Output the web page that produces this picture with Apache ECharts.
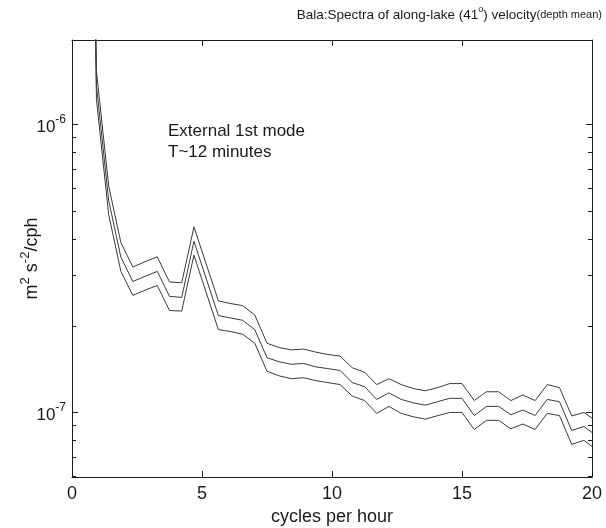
<!DOCTYPE html>
<html><head><meta charset="utf-8">
<script src="https://cdn.jsdelivr.net/npm/echarts@6/dist/echarts.min.js"></script>
<style>html,body{margin:0;padding:0;background:#fff}#c{width:606px;height:528px}</style>
</head><body><div id="c"></div>
<script>
// frequencies (cycles per hour)
const freq = [0.47, 0.94, 1.41, 1.88, 2.34, 2.81, 3.28, 3.75, 4.22, 4.69, 5.16, 5.63, 6.09, 6.56, 7.03,
  7.50, 7.97, 8.44, 8.91, 9.38, 9.84, 10.31, 10.78, 11.25, 11.72, 12.19, 12.66, 13.13, 13.59, 14.06,
  14.53, 15.00, 15.47, 15.94, 16.41, 16.88, 17.34, 17.81, 18.28, 18.75, 19.22, 19.69, 20.16];
// spectrum estimate (m^2 s^-2 / cph)
const psdMid = [1.0e-3, 1.366e-6, 5.45e-7, 3.46e-7, 2.85e-7, 2.97e-7, 3.09e-7, 2.53e-7, 2.51e-7, 3.93e-7,
  2.92e-7, 2.17e-7, 2.13e-7, 2.09e-7, 1.94e-7, 1.55e-7, 1.50e-7, 1.47e-7, 1.48e-7, 1.44e-7,
  1.42e-7, 1.40e-7, 1.27e-7, 1.23e-7, 1.11e-7, 1.17e-7, 1.11e-7, 1.08e-7, 1.06e-7, 1.09e-7,
  1.12e-7, 1.12e-7, 9.76e-8, 1.05e-7, 1.05e-7, 9.82e-8, 1.02e-7, 9.76e-8, 1.11e-7, 1.09e-7,
  8.66e-8, 8.94e-8, 8.32e-8];
// upper confidence bound
const psdUpper = [1.12e-3, 1.534e-6, 6.12e-7, 3.89e-7, 3.20e-7, 3.34e-7, 3.47e-7, 2.84e-7, 2.82e-7, 4.41e-7,
  3.28e-7, 2.44e-7, 2.39e-7, 2.35e-7, 2.18e-7, 1.74e-7, 1.68e-7, 1.65e-7, 1.66e-7, 1.62e-7,
  1.59e-7, 1.57e-7, 1.43e-7, 1.38e-7, 1.25e-7, 1.31e-7, 1.25e-7, 1.21e-7, 1.19e-7, 1.22e-7,
  1.26e-7, 1.26e-7, 1.10e-7, 1.18e-7, 1.18e-7, 1.10e-7, 1.15e-7, 1.10e-7, 1.25e-7, 1.22e-7,
  9.73e-8, 1.00e-7, 9.34e-8];
// lower confidence bound
const psdLower = [8.9e-4, 1.222e-6, 4.87e-7, 3.09e-7, 2.55e-7, 2.66e-7, 2.76e-7, 2.26e-7, 2.25e-7, 3.52e-7,
  2.61e-7, 1.94e-7, 1.91e-7, 1.87e-7, 1.74e-7, 1.39e-7, 1.34e-7, 1.31e-7, 1.32e-7, 1.29e-7,
  1.27e-7, 1.25e-7, 1.14e-7, 1.10e-7, 9.93e-8, 1.05e-7, 9.93e-8, 9.66e-8, 9.48e-8, 9.75e-8,
  1.00e-7, 1.00e-7, 8.73e-8, 9.39e-8, 9.39e-8, 8.78e-8, 9.12e-8, 8.73e-8, 9.93e-8, 9.75e-8,
  7.75e-8, 8.00e-8, 7.44e-8];
const xMin = 0, xMax = 20, xStep = 5;
const yMin = 5.97e-8, yMax = 1.965e-6;
const yMajor = [1e-7, 1e-6];
const yMinor = [6e-8, 7e-8, 8e-8, 9e-8, 2e-7, 3e-7, 4e-7, 5e-7, 6e-7, 7e-7, 8e-7, 9e-7];

const FONT = '"Liberation Sans", Arial, Helvetica, sans-serif';
const INK = '#1a1a1a';
const chart = echarts.init(document.getElementById('c'), null, {renderer: 'canvas'});

function pair(ys) { return freq.map((f, i) => [f, ys[i]]); }

function yAx(pos, ticks, len, withLabels, withLine) {
  return {
    type: 'log', logBase: 10, min: yMin, max: yMax, position: pos,
    axisLine: {show: withLine, onZero: false, lineStyle: {color: INK, width: 1}},
    axisTick: {show: true, inside: true, length: len, customValues: ticks, lineStyle: {color: INK}},
    axisLabel: withLabels ? {
      show: true, customValues: yMajor, margin: 6, fontFamily: FONT,
      formatter: v => '{b|10}{s|' + Math.round(Math.log10(v)) + '}',
      rich: {
        b: {fontSize: 17, lineHeight: 22, fontFamily: FONT, color: INK, verticalAlign: 'bottom'},
        s: {fontSize: 12, lineHeight: 14, fontFamily: FONT, color: INK, verticalAlign: 'top'}
      }
    } : {show: false},
    splitLine: {show: false}, minorTick: {show: false}
  };
}

const option = {
  animation: false,
  backgroundColor: '#fff',
  grid: {left: 72, right: 14, top: 40, bottom: 51, containLabel: false, outerBoundsMode: 'none'},
  xAxis: [
    {type: 'value', min: xMin, max: xMax, interval: xStep, position: 'bottom',
     name: 'cycles per hour', nameLocation: 'middle', nameGap: 31, nameMoveOverlap: false,
     nameTextStyle: {fontSize: 18, fontFamily: FONT, color: INK},
     axisLine: {show: true, onZero: false, lineStyle: {color: INK, width: 1}},
     axisTick: {show: true, inside: true, length: 6, lineStyle: {color: INK}},
     axisLabel: {fontSize: 18, fontFamily: FONT, color: INK, margin: 8},
     splitLine: {show: false}},
    {type: 'value', min: xMin, max: xMax, interval: xStep, position: 'top',
     axisLine: {show: true, onZero: false, lineStyle: {color: INK, width: 1}},
     axisTick: {show: true, inside: true, length: 6, lineStyle: {color: INK}},
     axisLabel: {show: false}, splitLine: {show: false}}
  ],
  yAxis: [
    Object.assign(yAx('left', yMajor, 6, true, true), {
      name: '{b|m}{s|2}{b| s}{s|-2}{b|/cph}', nameLocation: 'middle', nameGap: 31, nameRotate: 90,
      nameMoveOverlap: false,
      nameTextStyle: {fontFamily: FONT, color: INK, rich: {
        b: {fontSize: 18, lineHeight: 22, fontFamily: FONT, color: INK, verticalAlign: 'bottom'},
        s: {fontSize: 13, lineHeight: 14, fontFamily: FONT, color: INK, verticalAlign: 'top'}
      }}
    }),
    yAx('left', yMinor, 4, false, false),
    yAx('right', yMajor, 6, false, true),
    yAx('right', yMinor, 4, false, false)
  ],
  graphic: [
    {type: 'text', right: 4, top: 5, style: {
      text: '{a|Bala:Spectra of along-lake (41}{s|o}{a|) velocity}{c|(depth mean)}',
      rich: {
        a: {fontSize: 13.5, lineHeight: 20, fontFamily: FONT, fill: INK, verticalAlign: 'middle'},
        s: {fontSize: 9, lineHeight: 10, fontFamily: FONT, fill: INK, verticalAlign: 'top'},
        c: {fontSize: 11, lineHeight: 20, fontFamily: FONT, fill: INK, verticalAlign: 'middle'}
      }
    }},
    {type: 'text', left: 168, top: 121, style: {
      text: 'External 1st mode\nT~12 minutes', font: '17px ' + FONT, fill: INK, lineHeight: 21
    }}
  ],
  series: [
    {type: 'line', data: pair(psdUpper), xAxisIndex: 0, yAxisIndex: 0, symbol: 'none',
     lineStyle: {color: '#3a3a3a', width: 1}, clip: true},
    {type: 'line', data: pair(psdMid), xAxisIndex: 0, yAxisIndex: 0, symbol: 'none',
     lineStyle: {color: '#3a3a3a', width: 1}, clip: true},
    {type: 'line', data: pair(psdLower), xAxisIndex: 0, yAxisIndex: 0, symbol: 'none',
     lineStyle: {color: '#3a3a3a', width: 1}, clip: true}
  ]
};
chart.setOption(option);
</script>
</body></html>
